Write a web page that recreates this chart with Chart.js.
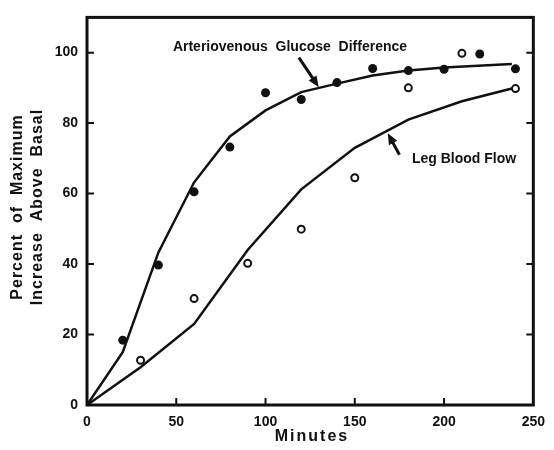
<!DOCTYPE html>
<html>
<head>
<meta charset="utf-8">
<script src="https://cdn.jsdelivr.net/npm/chart.js@4.4.1/dist/chart.umd.min.js"></script>
<style>
  html, body { margin: 0; padding: 0; background: #fff; }
  #wrap { width: 554px; height: 450px; }
</style>
</head>
<body>
<div id="wrap"><canvas id="chart" width="554" height="450"></canvas></div>
<script>
const avMinutes = [20, 40, 60, 80, 100, 120, 140, 160, 180, 200, 220, 240];
const avValues = [18.4, 39.7, 60.5, 73.2, 88.6, 86.7, 91.5, 95.5, 94.9, 95.3, 99.6, 95.4];
// fitted curve for arteriovenous glucose difference
const avFitMinutes = [0, 20, 40, 60, 80, 100, 120, 140, 160, 180, 200, 238];
const avFitValues = [0, 15, 43.3, 63.2, 76.2, 83.6, 88.8, 91.2, 93.5, 94.9, 95.8, 96.8];

const legMinutes = [30, 60, 90, 120, 150, 180, 210, 240];
const legValues = [12.7, 30.2, 40.2, 49.9, 64.5, 90, 99.8, 89.8];
// fitted curve for leg blood flow
const legFitMinutes = [0, 30, 60, 90, 120, 150, 180, 210, 238];
const legFitValues = [0, 10.7, 23, 44, 61.2, 73, 81, 86.2, 89.8];

const xTicks = [0, 50, 100, 150, 200, 250];
const yTicks = [0, 20, 40, 60, 80, 100];

const toXY = (xs, ys) => xs.map((x, i) => ({ x: x, y: ys[i] }));

const FONT = "'Liberation Sans', Arial, sans-serif";

//draws frame, inward ticks, axis titles and the arrow labels
const figurePlugin = {
  id: "figure",
  afterDraw(chart) {
    const ctx = chart.ctx;
    const a = chart.chartArea;
    const xs = chart.scales.x;
    const ys = chart.scales.y;
    ctx.save();
    ctx.strokeStyle = "#111";
    ctx.lineWidth = 3;
    ctx.strokeRect(a.left, a.top, a.right - a.left, a.bottom - a.top);

    //inward ticks
    ctx.lineWidth = 2;
    ctx.beginPath();
    for (const v of yTicks) {
      if (v === 0) continue;
      const py = ys.getPixelForValue(v);
      ctx.moveTo(a.left, py); ctx.lineTo(a.left + 7, py);
      ctx.moveTo(a.right, py); ctx.lineTo(a.right - 7, py);
    }
    for (const v of xTicks) {
      if (v === 0 || v === 250) continue;
      const px = xs.getPixelForValue(v);
      ctx.moveTo(px, a.bottom); ctx.lineTo(px, a.bottom - 7);
    }
    ctx.stroke();

    //axis titles
    ctx.fillStyle = "#111";
    ctx.textAlign = "center";
    ctx.textBaseline = "middle";
    ctx.font = "bold 16px " + FONT;
    ctx.letterSpacing = "2px";
    ctx.fillText("Minutes", 312, 437);
    ctx.letterSpacing = "1px";
    ctx.save();
    ctx.translate(18, 207);
    ctx.rotate(-Math.PI / 2);
    ctx.fillText("Percent  of  Maximum", 0, 0);
    ctx.fillText("Increase  Above  Basal", 0, 20);
    ctx.restore();

    //annotations
    ctx.font = "bold 14px " + FONT;
    ctx.letterSpacing = "0px";
    ctx.fillText("Arteriovenous  Glucose  Difference", xs.getPixelForValue(113.7), ys.getPixelForValue(101.5));
    ctx.textAlign = "left";
    ctx.font = "bold 14px " + FONT;
    ctx.fillText("Leg Blood Flow", xs.getPixelForValue(182), ys.getPixelForValue(69.8));

    const arrow = (x1, y1, x2, y2) => {
      const p1 = [xs.getPixelForValue(x1), ys.getPixelForValue(y1)];
      const p2 = [xs.getPixelForValue(x2), ys.getPixelForValue(y2)];
      const ang = Math.atan2(p2[1] - p1[1], p2[0] - p1[0]);
      ctx.lineWidth = 3;
      ctx.beginPath();
      ctx.moveTo(p1[0], p1[1]);
      ctx.lineTo(p2[0] - 6 * Math.cos(ang), p2[1] - 6 * Math.sin(ang));
      ctx.stroke();
      ctx.beginPath();
      ctx.moveTo(p2[0], p2[1]);
      ctx.lineTo(p2[0] - 12 * Math.cos(ang - 0.4), p2[1] - 12 * Math.sin(ang - 0.4));
      ctx.lineTo(p2[0] - 12 * Math.cos(ang + 0.4), p2[1] - 12 * Math.sin(ang + 0.4));
      ctx.closePath();
      ctx.fill();
    };
    arrow(118.7, 98.6, 129.8, 90.2);
    arrow(175, 71, 168.5, 77.1);
    ctx.restore();
  },
};

new Chart(document.getElementById("chart"), {
  type: "scatter",
  plugins: [figurePlugin],
  data: {
    datasets: [
      {
        type: "line",
        data: toXY(avFitMinutes, avFitValues),
        borderColor: "#111",
        borderWidth: 2.5,
        pointRadius: 0,
        tension: 0,
      },
      {
        type: "line",
        data: toXY(legFitMinutes, legFitValues),
        borderColor: "#111",
        borderWidth: 2.5,
        pointRadius: 0,
        tension: 0,
      },
      {
        data: toXY(avMinutes, avValues),
        backgroundColor: "#111",
        borderColor: "#111",
        pointRadius: 4.5,
        borderWidth: 0,
      },
      {
        data: toXY(legMinutes, legValues),
        backgroundColor: "#fff",
        borderColor: "#111",
        pointRadius: 3.5,
        borderWidth: 2,
      },
    ],
  },
  options: {
    responsive: false,
    animation: false,
    layout: { padding: { top: 14, right: 16, left: 0, bottom: 0 } },
    plugins: { legend: { display: false }, tooltip: { enabled: false } },
    scales: {
      x: {
        type: "linear",
        min: 0,
        max: 250,
        afterBuildTicks: (s) => { s.ticks = xTicks.map((v) => ({ value: v })); },
        afterFit: (s) => { s.height = 45; },
        grid: { display: false, drawTicks: false },
        border: { display: false },
        ticks: {
          color: "#111",
          padding: 9,
          maxRotation: 0,
          font: { family: FONT, size: 14, weight: "bold" },
        },
      },
      y: {
        min: 0,
        max: 110,
        afterBuildTicks: (s) => { s.ticks = yTicks.map((v) => ({ value: v })); },
        afterFit: (s) => { s.width = 87; },
        grid: { display: false, drawTicks: false },
        border: { display: false },
        ticks: {
          color: "#111",
          padding: 9,
          font: { family: FONT, size: 14, weight: "bold" },
        },
      },
    },
  },
});
</script>
</body>
</html>
